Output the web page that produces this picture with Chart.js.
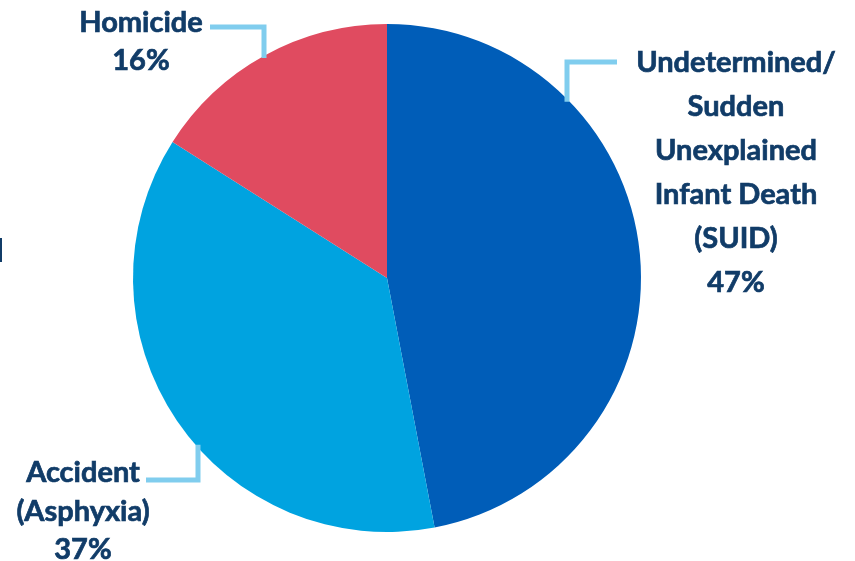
<!DOCTYPE html>
<html>
<head>
<meta charset="utf-8">
<script src="https://cdn.jsdelivr.net/npm/chart.js@4"></script>
<style>
  html, body { margin: 0; padding: 0; background: #fff; }
  #wrap { width: 855px; height: 561px; position: relative; }
</style>
</head>
<body>
<div id="wrap"><canvas id="canvas" width="855" height="561"></canvas></div>
<script>
// data
const categories = ['Undetermined/ Sudden Unexplained Infant Death (SUID)', 'Accident (Asphyxia)', 'Homicide'];
const shares = [47, 37, 16];
const sliceColors = ['#005DB8', '#00A3E0', '#E04B60'];

// label text lines, label centre, line height, leader elbow (x,y) and leader end x
const labelLines = [
  ['Undetermined/', 'Sudden', 'Unexplained', 'Infant Death', '(SUID)', '47%'],
  ['Accident', '(Asphyxia)', '37%'],
  ['Homicide', '16%']
];
const labelSpots = [
  { x: 736, y: 63, lh: 44, elbow: [617, 62], legX: 567 },
  { x: 83, y: 473, lh: 38.5, elbow: [146, 480], legX: 198 },
  { x: 141, y: 23, lh: 38, elbow: [210, 27], legX: 264 }
];

const calloutPlugin = {
  id: 'callouts',
  afterDatasetsDraw(chart) {
    const ctx = chart.ctx;
    const arcs = chart.getDatasetMeta(0).data;
    ctx.save();
    // leader lines
    ctx.strokeStyle = '#80CDEE';
    ctx.lineWidth = 5;
    ctx.lineCap = 'butt';
    ctx.lineJoin = 'miter';
    arcs.forEach((arc, i) => {
      const s = labelSpots[i];
      const dx = s.legX - arc.x;
      const r = arc.outerRadius - 2;
      let dy = Math.sqrt(Math.max(r * r - dx * dx, 0));
      if (s.elbow[1] < arc.y) dy = -dy;
      ctx.beginPath();
      ctx.moveTo(s.elbow[0], s.elbow[1]);
      ctx.lineTo(s.legX, s.elbow[1]);
      ctx.lineTo(s.legX, arc.y + dy);
      ctx.stroke();
    });
    // labels
    ctx.fillStyle = '#113C68';
    ctx.strokeStyle = '#113C68';
    ctx.lineWidth = 0.7;
    ctx.font = 'bold 29px Lato, "Open Sans", sans-serif';
    ctx.textAlign = 'center';
    ctx.textBaseline = 'middle';
    labelLines.forEach((lines, i) => {
      const s = labelSpots[i];
      lines.forEach((t, j) => {
        ctx.fillText(t, s.x, s.y + j * s.lh);
        ctx.strokeText(t, s.x, s.y + j * s.lh);
      });
    });
    // clipped fragment at the left edge
    ctx.fillRect(0, 238, 2, 24);
    ctx.restore();
  }
};

new Chart(document.getElementById('canvas').getContext('2d'), {
  type: 'pie',
  data: {
    labels: categories,
    datasets: [{
      data: shares,
      backgroundColor: sliceColors,
      borderWidth: 0
    }]
  },
  options: {
    responsive: false,
    animation: false,
    layout: { padding: { top: 24, bottom: 29, left: 133, right: 214 } },
    plugins: {
      legend: { display: false },
      tooltip: { enabled: false }
    }
  },
  plugins: [calloutPlugin]
});
</script>
</body>
</html>
